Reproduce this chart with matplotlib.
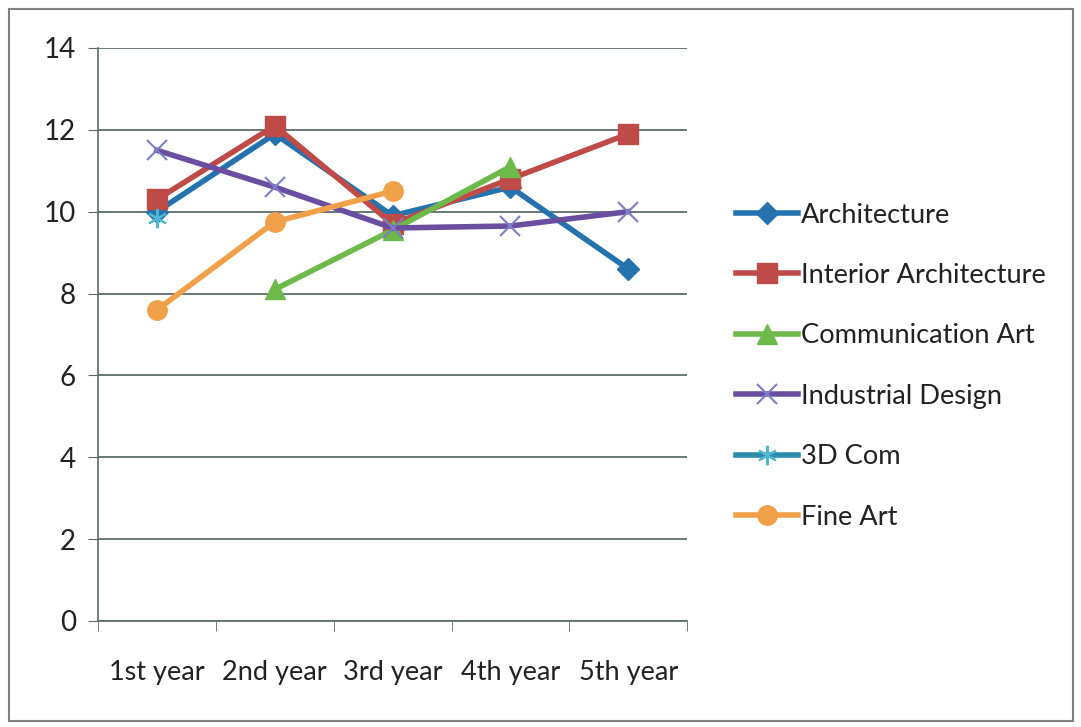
import matplotlib
matplotlib.use("Agg")
import matplotlib.pyplot as plt
import numpy as np
from matplotlib.lines import Line2D
from matplotlib.patches import Rectangle

categories = ["1st year", "2nd year", "3rd year", "4th year", "5th year"]
architecture = [10.0, 11.9, 9.9, 10.6, 8.6]
interior_architecture = [10.3, 12.1, 9.7, 10.8, 11.9]
communication_art = [np.nan, 8.1, 9.55, 11.1, np.nan]
industrial_design = [11.5, 10.6, 9.6, 9.65, 10.0]
com_3d = [9.85, np.nan, np.nan, np.nan, np.nan]
fine_art = [7.6, 9.75, 10.5, np.nan, np.nan]
y_ticks = [0, 2, 4, 6, 8, 10, 12, 14]

series = [
    ("Architecture", architecture, "#2473AE", "D", 11),
    ("Interior Architecture", interior_architecture, "#BE4B48", "s", 14),
    ("Communication Art", communication_art, "#6DBA4A", "^", 14),
    ("Industrial Design", industrial_design, "#6A4FA0", "x", 14),
    ("3D Com", com_3d, "#2A8DAE", "*", 14),
    ("Fine Art", fine_art, "#F1A04A", "o", 14),
]

plt.rcParams['font.family'] = ['Lato', 'DejaVu Sans']
fig = plt.figure(figsize=(10.81, 7.27), dpi=100)
fig.patch.set_facecolor("white")
ax = fig.add_axes([0.0907, 0.146, 0.545, 0.788])

x = np.arange(len(categories))
handles = []
for name, vals, col, mk, ms in series:
    if mk == "x":
        kw = dict(color=col, lw=4, marker="x", ms=ms, mec="#7E7EC8", mew=1.5)
    elif mk == "*":
        kw = dict(color=col, lw=4, marker=(6, 2, 0), ms=ms, mec="#4FB6D2", mew=1.5)
    else:
        kw = dict(color=col, lw=4, marker=mk, ms=ms, mfc=col, mec=col)
    ax.plot(x, vals, zorder=3, **kw)
    handles.append(Line2D([], [], **kw))

ax.set_xlim(-0.5, 4.5)
ax.set_ylim(0, 14)
ax.set_yticks(y_ticks)
ax.set_yticklabels([str(v) for v in y_ticks], fontsize=20, color="#222222")
ax.set_xticks(x)
ax.set_xticklabels(categories, fontsize=19.5, color="#222222")
ax.tick_params(axis="x", length=0, pad=28)
ax.set_xticks(np.arange(-0.5, 5.0, 1.0), minor=True)
ax.tick_params(axis="x", which="minor", length=7, direction="out", color="#5a6a6a")
ax.tick_params(axis="y", length=7, direction="out", color="#5a6a6a", pad=9)
ax.grid(axis="y", color="#4f6060", lw=1.2)
ax.set_axisbelow(True)
for s in ["top", "right"]:
    ax.spines[s].set_visible(False)
for s in ["left", "bottom"]:
    ax.spines[s].set_color("#5a6a6a")
    ax.spines[s].set_linewidth(1.2)

fig.legend(handles, [s[0] for s in series], loc="upper left",
           bbox_to_anchor=(0.668, 0.740), frameon=False, fontsize=19.6,
           labelspacing=1.30, handlelength=2.3, handletextpad=0.08,
           labelcolor="#222222", borderpad=0)

fig.add_artist(Rectangle((0.008, 0.008), 0.985, 0.98, transform=fig.transFigure,
                         fill=False, edgecolor="#808080", lw=1.5))

fig.savefig("out.png", dpi=100)
